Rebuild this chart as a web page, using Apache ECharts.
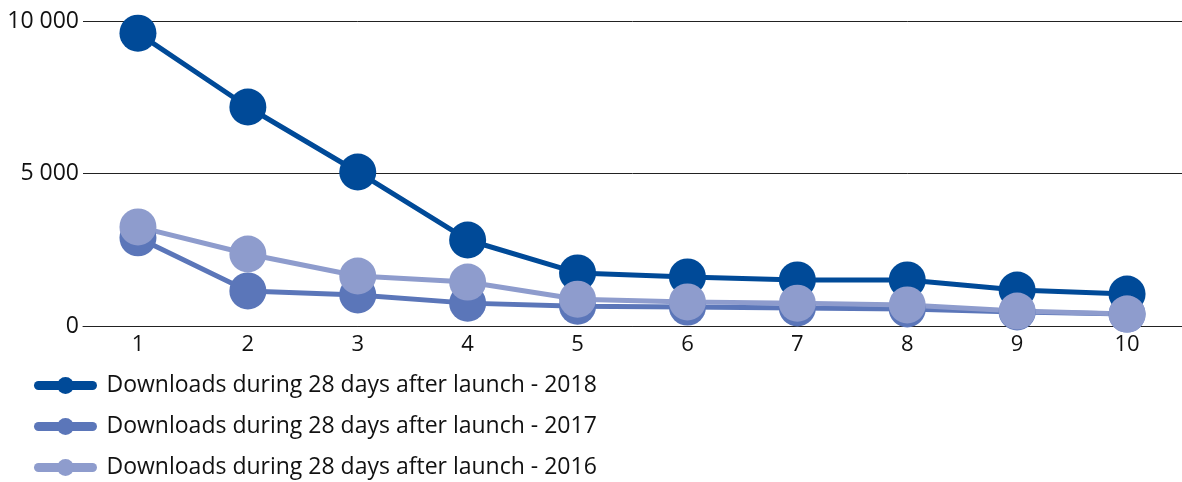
<!DOCTYPE html>
<html>
<head>
<meta charset="utf-8">
<script src="https://cdn.jsdelivr.net/npm/echarts@6/dist/echarts.min.js"></script>
<style>
html, body { margin: 0; padding: 0; background: #fff; }
#box { width: 1182px; height: 482px; }
</style>
</head>
<body>
<div id="box"></div>
<script>
// days after launch
var days = ['1', '2', '3', '4', '5', '6', '7', '8', '9', '10'];
var dl2018 = [9600, 7180, 5050, 2820, 1740, 1610, 1510, 1510, 1180, 1050];
var dl2017 = [2890, 1150, 1020, 750, 650, 620, 590, 560, 460, 390];
var dl2016 = [3250, 2360, 1640, 1440, 880, 790, 750, 690, 490, 390];
var names = [
	'Downloads during 28 days after launch - 2018',
	'Downloads during 28 days after launch - 2017',
	'Downloads during 28 days after launch - 2016'
];
var colors = ['#004A98', '#5B76B9', '#8E9CCD'];

var myChart = echarts.init(document.getElementById('box'));

function mkSeries(name, data, color) {
	return {
		name: name,
		type: 'line',
		data: data,
		symbol: 'circle',
		symbolSize: 37,
		lineStyle: { width: 5, color: color },
		itemStyle: { color: color },
		emphasis: { disabled: true }
	};
}

var option = {
	animation: false,
	textStyle: { fontFamily: 'Open Sans' },
	grid: { left: 83, right: 0, top: 21, bottom: 156 },
	legend: {
		orient: 'vertical',
		left: 34,
		top: 374,
		padding: 0,
		height: 120,
		itemGap: 18,
		itemWidth: 54,
		itemHeight: 21,
		lineStyle: { width: 9, cap: 'round' },
		textStyle: { fontSize: 23, color: '#111', fontFamily: 'Open Sans', padding: [0, 0, 0, 9] },
		data: names
	},
	xAxis: {
		type: 'category',
		data: days,
		axisLine: { lineStyle: { color: '#222', width: 1 } },
		axisTick: { show: false },
		axisLabel: { fontSize: 22, color: '#111', margin: 8 }
	},
	yAxis: {
		type: 'value',
		min: 0,
		max: 10000,
		interval: 5000,
		axisLine: { show: false },
		axisTick: { show: false },
		splitLine: { lineStyle: { color: '#222', width: 1 } },
		axisLabel: {
			fontSize: 23,
			color: '#111',
			margin: 4,
			formatter: function (v) {
				return String(v).replace(/\B(?=(\d{3})+(?!\d))/g, ' ');
			}
		}
	},
	series: [
		mkSeries(names[0], dl2018, colors[0]),
		mkSeries(names[1], dl2017, colors[1]),
		mkSeries(names[2], dl2016, colors[2])
	]
};
myChart.setOption(option);
</script>
</body>
</html>
